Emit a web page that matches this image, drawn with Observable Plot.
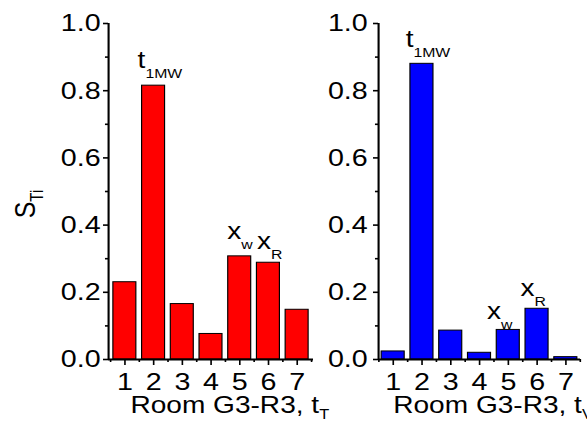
<!DOCTYPE html>
<html>
<head>
<meta charset="utf-8">
<script src="https://cdn.jsdelivr.net/npm/d3@7"></script>
<script src="https://cdn.jsdelivr.net/npm/@observablehq/plot@0.6"></script>
<style>
  html, body { margin: 0; padding: 0; background: #fff; }
  #wrap { position: relative; width: 587px; height: 423px; overflow: hidden; }
  #wrap svg { position: absolute; left: 0; top: 0; }
</style>
</head>
<body>
<div id="wrap"></div>
<script>
// ---- data ----
const rooms = [1, 2, 3, 4, 5, 6, 7];
const sT = [0.230, 0.815, 0.165, 0.076, 0.307, 0.288, 0.148];
const sV = [0.024, 0.880, 0.086, 0.020, 0.088, 0.151, 0.007];
const yTicks = [0, 0.2, 0.4, 0.6, 0.8, 1.0];
const yMinor = [0.1, 0.3, 0.5, 0.7, 0.9];
const xMinor = [0.5, 1.5, 2.5, 3.5, 4.5, 5.5, 6.5, 7.5];
const labelsT = [
  {x: 1.44, y: 0.869, main: "t", sub: "1MW"},
  {x: 4.56, y: 0.360, main: "x", sub: "w"},
  {x: 5.60, y: 0.330, main: "x", sub: "R"}
];
const labelsV = [
  {x: 1.43, y: 0.929, main: "t", sub: "1MW"},
  {x: 4.26, y: 0.121, main: "x", sub: "w"},
  {x: 5.42, y: 0.190, main: "x", sub: "R"}
];
const yTitle = {main: "S", sub: "Ti"};
const xTitleT = {main: "Room G3-R3, t", sub: "T"};
const xTitleV = {main: "Room G3-R3, t", sub: "V"};

const FONT = "Liberation Sans, Arial, Helvetica, sans-serif";
// the reference figure is stretched horizontally relative to its fonts
const W = 502, H = 423, K = 587 / W;

// render transform that appends a subscript tspan
function withSub(data, subSize, subDy) {
  return function(index, scales, values, dimensions, context, next) {
    const g = next(index, scales, values, dimensions, context);
    d3.select(g).selectAll("text").each(function(i) {
      const t = d3.select(this);
      const main = this.textContent;
      t.text(null);
      t.append("tspan").text(main);
      t.append("tspan").attr("dy", subDy).attr("font-size", subSize).text(data[i].sub);
    });
    return g;
  };
}

function panel(values, labels, xTitle, opts) {
  const table = rooms.map((r, i) => ({room: r, s: values[i]}));
  const marks = [
    Plot.rectY(table, {x1: d => d.room - 0.4, x2: d => d.room + 0.4, y1: 0, y2: "s",
      fill: opts.fill, stroke: "#000", strokeWidth: 1}),
    Plot.ruleY([0], {stroke: "#000", strokeWidth: 2}),
    Plot.ruleX([opts.domain[0]], {stroke: "#000", strokeWidth: 1.8}),
    Plot.axisY({ticks: yTicks, tickFormat: d3.format(".1f"), tickSize: 4.3, tickPadding: opts.yPad,
      fontSize: 24.5, label: null, strokeWidth: 1.6}),
    Plot.axisY({ticks: yMinor, tickFormat: () => "", tickSize: 2.6, label: null, strokeWidth: 1.6}),
    Plot.axisX({ticks: rooms, tickFormat: d3.format("d"), tickSize: 6, tickPadding: 7,
      fontSize: 24.5, label: null, strokeWidth: 1.4}),
    Plot.axisX({ticks: xMinor, tickFormat: () => "", tickSize: 3, label: null, strokeWidth: 1.4}),
    Plot.text(labels, {x: "x", y: "y", text: "main", textAnchor: "start", lineAnchor: "bottom",
      fontSize: 24, fill: "#000", render: withSub(labels, 13.5, 10)}),
    Plot.text([xTitle], {frameAnchor: "bottom", text: "main", textAnchor: "middle", lineAnchor: "bottom",
      dy: 53, dx: opts.titleDx, fontSize: 24, fill: "#000", render: withSub([xTitle], 14, 6)})
  ];
  if (opts.yTitle) {
    marks.push(Plot.text([yTitle], {frameAnchor: "left", text: "main", rotate: -90, textAnchor: "middle",
      lineAnchor: "bottom", dx: -63.3, dy: 12.5, fontSize: 25, fill: "#000",
      render: withSub([yTitle], 15, 6.8)}));
  }
  const svg = Plot.plot({
    width: W, height: H,
    marginLeft: opts.ml, marginRight: opts.mr, marginTop: 23, marginBottom: 64,
    style: {background: "transparent", fontFamily: FONT, fontSize: "24px", color: "#000", overflow: "visible"},
    x: {type: "linear", domain: opts.domain},
    y: {domain: [0, 1]},
    marks
  });
  // drop the empty label elements of the minor-tick axes
  svg.querySelectorAll("text").forEach(t => { if (t.textContent === "") t.remove(); });
  svg.setAttribute("preserveAspectRatio", "none");
  svg.setAttribute("width", 587);
  svg.style.width = "587px";
  svg.style.height = H + "px";
  svg.style.maxWidth = "none";
  return svg;
}

const wrap = document.getElementById("wrap");
wrap.appendChild(panel(sT, labelsT, xTitleT, {fill: "#ff0000", domain: [0.43, 7.57],
  ml: 108 / K, mr: W - 313 / K, titleDx: 16, yPad: 2.5, yTitle: true}));
wrap.appendChild(panel(sV, labelsV, xTitleV, {fill: "#0000ff", domain: [0.49, 7.51],
  ml: 378 / K, mr: W - 580 / K, titleDx: 11.5, yPad: 5, yTitle: false}));
</script>
</body>
</html>
